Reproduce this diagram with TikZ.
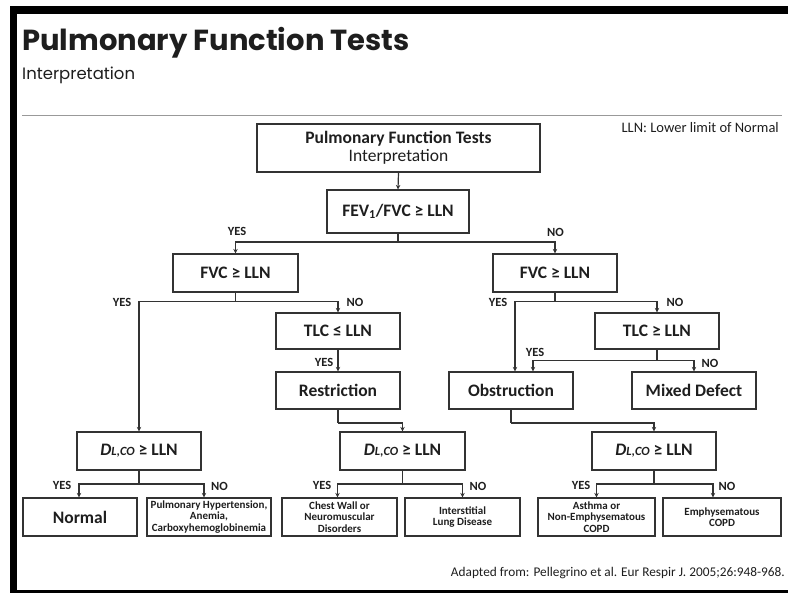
\documentclass[tikz,border=0pt]{standalone}
\usepackage{fontspec}
\setmainfont{Carlito}
\newfontfamily\titlefont{Poppins}
\usetikzlibrary{arrows.meta}
\definecolor{ink}{HTML}{1E1E1E}
\definecolor{lines}{HTML}{333333}
\begin{document}
\begin{tikzpicture}[x=1pt,y=-1pt,
  box/.style={draw=lines,line width=1.2pt,inner sep=0pt,align=center,text=ink,
    font=\fontsize{17.5}{19}\selectfont\bfseries},
  smallbox/.style={box,font=\fontsize{11}{11.6}\selectfont\bfseries},
  lab/.style={inner sep=0pt,text=ink,font=\fontsize{12.5}{13}\selectfont\bfseries},
  conn/.style={draw=lines,line width=1.2pt},
  arr/.style={conn,-{Stealth[length=4.5pt,width=4.5pt]}}]
\useasboundingbox (0,0) rectangle (788,593);
% frame
\fill[black] (10,6) rectangle (788,14);
\fill[black] (10,6) rectangle (17,593);
\fill[black] (10,590) rectangle (788,593);
% heading
\node[anchor=base west,inner sep=0pt,text=ink] (title) at (22,51)
  {\titlefont\bfseries\fontsize{29}{32}\selectfont Pulmonary Function Tests};
\node[anchor=base west,inner sep=0pt,text=ink] (subtitle) at (22,80)
  {\titlefont\fontsize{16.5}{18}\selectfont Interpretation};
\draw[gray!80,line width=0.8pt] (22,115) coordinate (r1) -- (782,115) coordinate (r2);
\node[anchor=base east,inner sep=0pt,text=ink] (lln) at (779,133)
  {\fontsize{14.5}{16}\selectfont LLN: Lower limit of Normal};
\node[anchor=base east,inner sep=0pt,text=ink] (foot) at (785,577)
  {\fontsize{13.3}{15}\selectfont Adapted from: Pellegrino et al. Eur Respir J. 2005;26:948-968.};
% boxes
\node[box,minimum width=283pt,minimum height=48pt] (top) at (398.5,148)
  {Pulmonary Function Tests\\[-1pt]\mdseries Interpretation};
\node[box,minimum width=142pt,minimum height=43pt] (fev) at (398,211.5)
  {FEV\textsubscript{1}/FVC ≥ LLN};
\node[box,minimum width=125pt,minimum height=38pt] (fvcL) at (235.5,273) {FVC ≥ LLN};
\node[box,minimum width=124pt,minimum height=38pt] (fvcR) at (555,273) {FVC ≥ LLN};
\node[box,minimum width=124pt,minimum height=36pt] (tlcL) at (338,331) {TLC ≤ LLN};
\node[box,minimum width=124pt,minimum height=37pt] (restr) at (338,390.5) {Restriction};
\node[box,minimum width=124pt,minimum height=36pt] (tlcR) at (657,331) {TLC ≥ LLN};
\node[box,minimum width=124pt,minimum height=37pt] (obstr) at (511,390.5) {Obstruction};
\node[box,minimum width=124pt,minimum height=37pt] (mixed) at (694,390.5) {Mixed Defect};
\newcommand{\dlco}{{\itshape D{\fontsize{12.5}{13}\selectfont L,CO}} ≥ LLN}
\node[box,minimum width=124pt,minimum height=38pt] (dL) at (139,451) {\dlco};
\node[box,minimum width=125pt,minimum height=38pt] (dM) at (402.5,451) {\dlco};
\node[box,minimum width=124pt,minimum height=38pt] (dR) at (654,451) {\dlco};
\node[box,minimum width=114pt,minimum height=38pt] (normal) at (80,517) {Normal};
\node[smallbox,minimum width=124pt,minimum height=38pt] (ph) at (209,517)
  {Pulmonary Hypertension,\\Anemia,\\Carboxyhemoglobinemia};
\node[smallbox,minimum width=115pt,minimum height=38pt] (chest) at (339.5,517)
  {Chest Wall or\\Neuromuscular\\Disorders};
\node[smallbox,minimum width=115pt,minimum height=38pt] (inter) at (462.5,517)
  {Interstitial\\Lung Disease};
\node[smallbox,minimum width=117pt,minimum height=38pt] (asthma) at (596.5,517)
  {Asthma or\\Non-Emphysematous\\COPD};
\node[smallbox,minimum width=118pt,minimum height=38pt] (emph) at (722,517)
  {Emphysematous\\COPD};
% connectors
\draw[arr] (top.south) -- (fev.north);
\coordinate (j1) at (398,242);
\draw[conn] (fev.south) -- (j1);
\draw[arr] (j1) -| (fvcL.north);
\draw[arr] (j1) -| (fvcR.north);
\coordinate (j2) at (235.5,301.5);
\draw[conn] (fvcL.south) -- (j2);
\draw[arr] (j2) -| (dL.north);
\draw[arr] (j2) -| (tlcL.north);
\draw[arr] (tlcL.south) -- (restr.north);
\coordinate (j3) at (338,423);
\draw[conn] (restr.south) -- (j3);
\draw[arr] (j3) -| (dM.north);
\coordinate (j4) at (555,301.5);
\draw[conn] (fvcR.south) -- (j4);
\draw[arr] (j4) -| ([xshift=4pt]obstr.north);
\draw[arr] (j4) -| (tlcR.north);
\coordinate (j5) at (657,360.5);
\draw[conn] (tlcR.south) -- (j5);
\draw[arr] (j5) -| ([xshift=22pt]obstr.north);
\draw[arr] (j5) -| (mixed.north);
\coordinate (j6) at (511,423);
\draw[conn] (obstr.south) -- (j6);
\draw[arr] (j6) -| (dR.north);
\coordinate (j7) at (139,484);
\draw[conn] (dL.south) -- (j7);
\draw[arr] (j7) -| ([xshift=-1pt]normal.north);
\draw[arr] (j7) -| ([xshift=-5pt]ph.north);
\coordinate (j8) at (402.5,484);
\draw[conn] (dM.south) -- (j8);
\draw[arr] (j8) -| ([xshift=-2pt]chest.north);
\draw[arr] (j8) -| (inter.north);
\coordinate (j9) at (654,484);
\draw[conn] (dR.south) -- (j9);
\draw[arr] (j9) -| (asthma.north);
\draw[arr] (j9) -| ([xshift=-9pt]emph.north);
% labels
\node[lab] (y1) at (237,231) {YES};
\node[lab] (n1) at (555.5,232) {NO};
\node[lab] (y2) at (122,302) {YES};
\node[lab] (n2) at (355,302) {NO};
\node[lab] (y3) at (324,362) {YES};
\node[lab] (y4) at (498,302) {YES};
\node[lab] (n4) at (675,302) {NO};
\node[lab] (y5) at (535,352) {YES};
\node[lab] (n5) at (710,363) {NO};
\node[lab] (y6) at (62,485) {YES};
\node[lab] (n6) at (219.5,486) {NO};
\node[lab] (y7) at (322,485) {YES};
\node[lab] (n7) at (478,486) {NO};
\node[lab] (y8) at (581,485) {YES};
\node[lab] (n8) at (727,486) {NO};
\end{tikzpicture}
\end{document}
